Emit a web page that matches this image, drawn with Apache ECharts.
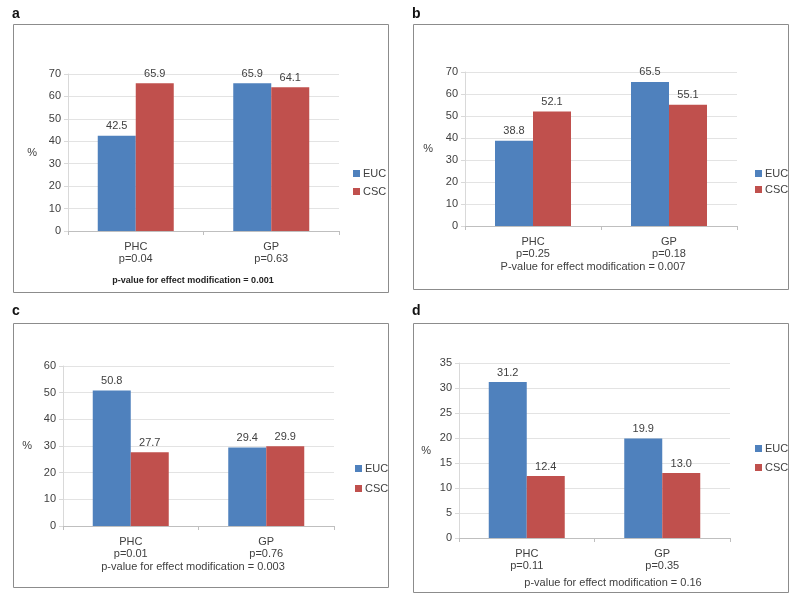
<!DOCTYPE html>
<html><head><meta charset="utf-8">
<script src="https://cdn.jsdelivr.net/npm/echarts@6/dist/echarts.min.js"></script>
<style>html,body{margin:0;padding:0;background:#fff}#c{width:800px;height:598px}</style>
</head><body><div id="c"></div>
<script>
var categories = ['PHC', 'GP'];
var seriesNames = ['EUC', 'CSC'];
var panelLetters = ['a', 'b', 'c', 'd'];
var pA = ['p=0.04', 'p=0.63'];
var pB = ['p=0.25', 'p=0.18'];
var pC = ['p=0.01', 'p=0.76'];
var pD = ['p=0.11', 'p=0.35'];
var eucA = [42.5, 65.9], cscA = [65.9, 64.1];
var eucB = [38.8, 65.5], cscB = [52.1, 55.1];
var eucC = [50.8, 29.4], cscC = [27.7, 29.9];
var eucD = [31.2, 19.9], cscD = [12.4, 13.0];
var yMax = [70, 70, 60, 35];
var yStep = [10, 10, 10, 5];
var footers = [
  'p-value for effect modification = 0.001',
  'P-value for effect modification = 0.007',
  'p-value for effect modification = 0.003',
  'p-value for effect modification = 0.16'
];

var FONT = '"Liberation Sans", Arial, sans-serif';
var TXT = '#404040';
var BLUE = '#4F81BD', RED = '#C0504D';

var pv = [pA, pB, pC, pD];
var euc = [eucA, eucB, eucC, eucD];
var csc = [cscA, cscB, cscC, cscD];

// layout (positions only)
var grids = [
  {left: 68, right: 461, top: 74, bottom: 367},
  {left: 465, right: 63, top: 72, bottom: 372},
  {left: 63, right: 466, top: 366, bottom: 72},
  {left: 459, right: 70, top: 363, bottom: 60}
];
var nameGaps = [31, 32, 31, 28];
var frames = [[13, 24, 375, 268], [413, 24, 375, 265], [13, 323, 375, 264], [413, 323, 375, 269]];
var letterPos = [[12, 7], [412, 7], [12, 304], [412, 304]];
var footerPos = [[193, 281, true], [593, 267, false], [193, 567, false], [613, 583, false]];
var legendPos = [[353, 168], [755, 168], [355, 463], [755, 443]];
var legendGaps = [7, 5, 9, 8];

var option = {
  animation: false,
  backgroundColor: '#fff',
  textStyle: {fontFamily: FONT},
  grid: [], xAxis: [], yAxis: [], series: [], legend: [], graphic: []
};

for (var i = 0; i < 4; i++) {
  option.grid.push(Object.assign({containLabel: false}, grids[i]));
  var labels = categories.map(function (c, k) { return c + '\n' + pv[i][k]; });
  option.xAxis.push({
    type: 'category', gridIndex: i, data: labels,
    axisLine: {lineStyle: {color: '#BFBFBF'}},
    axisTick: {show: true, length: 4, lineStyle: {color: '#BFBFBF'}},
    axisLabel: {color: TXT, fontSize: 11, fontFamily: FONT, lineHeight: 12, margin: 10}
  });
  option.yAxis.push({
    type: 'value', gridIndex: i, min: 0, max: yMax[i], interval: yStep[i],
    name: '%', nameLocation: 'middle', nameRotate: 0, nameGap: nameGaps[i],
    nameTextStyle: {color: TXT, fontSize: 11, fontFamily: FONT},
    axisLine: {show: true, lineStyle: {color: '#D9D9D9'}},
    axisTick: {show: true, length: 4, lineStyle: {color: '#D9D9D9'}},
    splitLine: {lineStyle: {color: '#E3E3E3'}},
    axisLabel: {color: TXT, fontSize: 11, fontFamily: FONT, margin: 7}
  });
  [euc[i], csc[i]].forEach(function (vals, s) {
    option.series.push({
      type: 'bar', name: seriesNames[s], xAxisIndex: i, yAxisIndex: i,
      data: vals, barWidth: 38, barGap: '0%',
      itemStyle: {color: s === 0 ? BLUE : RED},
      label: {show: true, position: 'top', distance: 4, color: TXT, fontSize: 11, fontFamily: FONT,
        formatter: function (p) { return p.value.toFixed(1); }}
    });
  });
  option.legend.push({
    data: seriesNames, orient: 'vertical', left: legendPos[i][0], top: legendPos[i][1],
    padding: 0,
    itemWidth: 7, itemHeight: 7, itemGap: legendGaps[i], icon: 'rect',
    textStyle: {color: TXT, fontSize: 11, fontFamily: FONT, padding: [0, 0, 0, -2]},
    selectedMode: false
  });
  option.graphic.push({
    type: 'rect', shape: {x: frames[i][0] + 0.5, y: frames[i][1] + 0.5, width: frames[i][2], height: frames[i][3]},
    style: {fill: 'none', stroke: '#8C8C8C', lineWidth: 1}, z: -10, silent: true
  });
  option.graphic.push({
    type: 'text', left: letterPos[i][0], top: letterPos[i][1],
    style: {text: panelLetters[i], fill: '#111', font: 'bold 14px ' + FONT}
  });
  option.graphic.push({
    type: 'text', x: footerPos[i][0], y: footerPos[i][1],
    style: {text: footers[i], fill: footerPos[i][2] ? '#222' : TXT, align: 'center', verticalAlign: 'middle',
      font: (footerPos[i][2] ? 'bold 9px ' : '11px ') + FONT}
  });
}

var chart = echarts.init(document.getElementById('c'), null, {renderer: 'canvas'});
chart.setOption(option);
</script>
</body></html>
